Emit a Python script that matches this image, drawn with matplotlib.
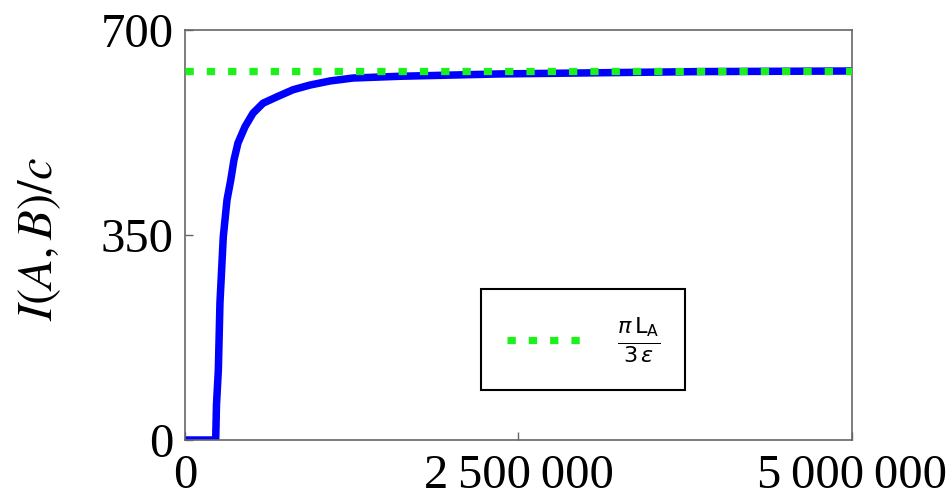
import numpy as np
import matplotlib
matplotlib.use('Agg')
import matplotlib.pyplot as plt
from matplotlib.font_manager import FontProperties

# values
t = [0, 230000, 236000, 250000, 262000, 287000, 315000, 343000, 367000, 397000,
     450000, 510000, 585000, 690000, 810000, 937000, 1087000, 1259000, 1612000,
     2361000, 3111000, 3860000, 5000000]
I = [0, 0, 60, 120, 234, 347, 410, 444, 478, 507,
     535, 558, 575, 586, 598, 606, 613, 618, 621,
     625, 627, 629, 630]
limite = 630
x_ticks = [0, 2500000, 5000000]
x_labels = ['0', '2\u2009500\u2009000', '5\u2009000\u2009000']
y_ticks = [0, 350, 700]

plt.rcParams['mathtext.fontset'] = 'stix'
serif = ['Liberation Serif', 'DejaVu Serif']

fig = plt.figure(figsize=(9.52, 4.99), dpi=100)
ax = fig.add_axes([185/952, 1-440/499, 667/952, 410/499])

ax.plot(t, I, color=(0, 0, 1), lw=5.4, solid_joinstyle='round', zorder=2)
ax.axhline(limite, color=(0.1, 0.95, 0.1), lw=5.2, dashes=(1.15, 1.8),
           dash_capstyle='butt', zorder=3, label=r'$\frac{\pi\,\mathsf{L}_{\mathsf{A}}}{3\,\epsilon}$')

ax.set_xlim(0, 5000000)
ax.set_ylim(0, 700)
ax.set_xticks(x_ticks)
ax.set_xticklabels(x_labels)
ax.set_yticks(y_ticks)
for lab in ax.get_xticklabels() + ax.get_yticklabels():
    lab.set_family(serif)
    lab.set_fontsize(35)
ax.tick_params(direction='in', length=6, width=1, color='#666666', pad=8)
ax.tick_params(axis='x', pad=10)
for s in ax.spines.values():
    s.set_color('#666666')
    s.set_linewidth(1.2)

ax.set_ylabel(r'$I(A,B)/c$', fontsize=35)
ax.yaxis.set_label_coords(-0.183, 0.49)

prop = FontProperties(family='DejaVu Sans', size=23, math_fontfamily='dejavusans')
leg = ax.legend(loc='center', bbox_to_anchor=(0.597, 0.244), prop=prop,
                handlelength=2.65, handletextpad=0.8, borderpad=0.8,
                fancybox=False, framealpha=1, edgecolor='black')
leg.get_frame().set_linewidth(1.5)

fig.savefig('out.png', dpi=100)
